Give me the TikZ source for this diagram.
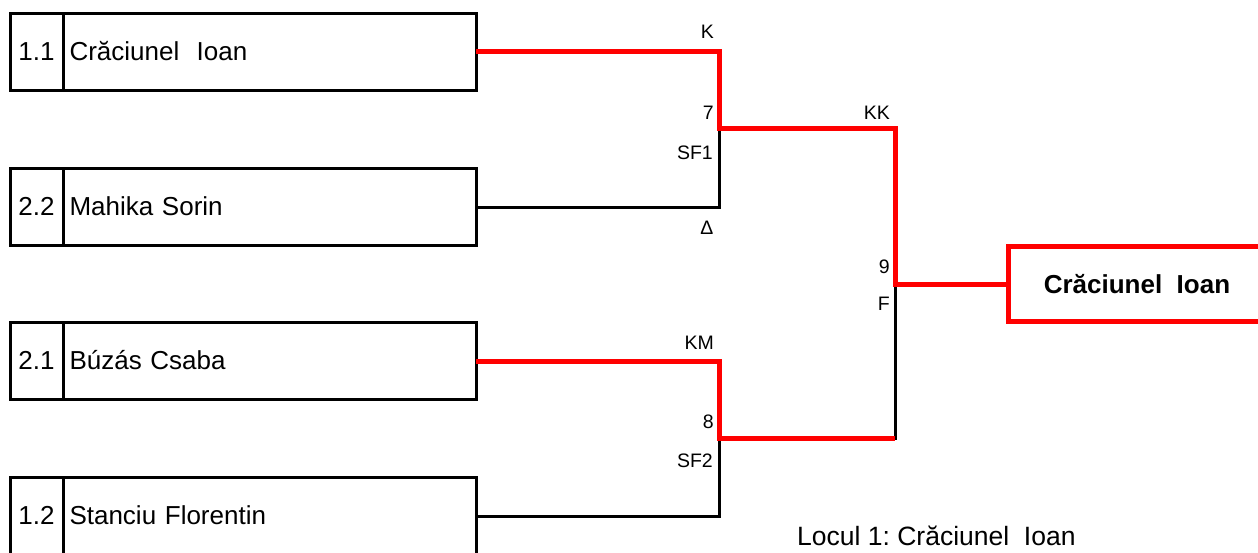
\documentclass[tikz,border=0pt]{standalone}
\usepackage{fontspec}
\setmainfont{Liberation Sans}
\begin{document}
\begin{tikzpicture}[x=1pt,y=-1pt,
  seedbox/.style={draw=black,line width=3pt,minimum width=53pt,minimum height=77pt,anchor=north west,inner sep=0pt,outer sep=0pt,font=\fontsize{26}{30}\selectfont},
  namebox/.style={draw=black,line width=3pt,minimum width=413pt,minimum height=77pt,anchor=north west,inner sep=0pt,outer sep=0pt,text width=400pt,align=left,font=\fontsize{26}{30}\selectfont},
  winline/.style={draw=red,line width=5pt,line join=miter},
  loseline/.style={draw=black,line width=3pt},
  lbl/.style={font=\fontsize{19.5}{22}\selectfont,inner sep=0pt},
  finalbox/.style={draw=red,line width=5pt,minimum width=270pt,minimum height=75pt,anchor=north west,inner sep=0pt,outer sep=0pt,font=\bfseries\fontsize{26}{30}\selectfont}]
\useasboundingbox (0,0) rectangle (1258,552);
\clip (0,0) rectangle (1258,552);
% boxes
\node[seedbox] (s1) at (10,13) {1.1};
\node[namebox] (n1) at (63,13) {Crăciunel\ \ Ioan};
\node[seedbox] (s2) at (10,168) {2.2};
\node[namebox] (n2) at (63,168) {Mahika Sorin};
\node[seedbox] (s3) at (10,322) {2.1};
\node[namebox] (n3) at (63,322) {Búzás Csaba};
\node[seedbox] (s4) at (10,477) {1.2};
\node[namebox] (n4) at (63,477) {Stanciu Florentin};
\node[finalbox] (fin) at (1008,246) {};
\node[font=\bfseries\fontsize{26}{30}\selectfont,inner sep=0pt] (fint) at (1137,284) {Crăciunel\ \ Ioan};
% junctions
\coordinate (j1a) at (719,51);
\coordinate (j1) at (719,128);
\coordinate (j1b) at (719,207);
\coordinate (j2a) at (719,361);
\coordinate (j2) at (719,438);
\coordinate (j2b) at (719,516);
\coordinate (jfa) at (895,128);
\coordinate (jf) at (895,284);
\coordinate (jfb) at (895,438);
% losers
\draw[loseline] (n2.east |- j1b) -- (j1b) -- (j1);
\draw[loseline] (n4.east |- j2b) -- (j2b) -- (j2);
\draw[loseline] (j2) -- (jfb) -- (jf);
% winners
\draw[winline] (n1.east |- j1a) -- (j1a) -- (j1) -- (jfa) -- (jf) -- (fin.west |- jf);
\draw[winline] (n3.east |- j2a) -- (j2a) -- (j2) -- (jfb);
% labels
\node[lbl,anchor=base east] (lK) at (714,38) {K};
\node[lbl,anchor=base east] (l7) at (714,119) {7};
\node[lbl,anchor=base east] (lsf1) at (713,159) {SF1};
\node[lbl,anchor=base east] (ld) at (713,234) {∆};
\node[lbl,anchor=base east] (lKK) at (890,119) {KK};
\node[lbl,anchor=base east] (l9) at (890,273) {9};
\node[lbl,anchor=base east] (lF) at (890,310) {F};
\node[lbl,anchor=base east] (lKM) at (714,349) {KM};
\node[lbl,anchor=base east] (l8) at (714,428) {8};
\node[lbl,anchor=base east] (lsf2) at (713,467) {SF2};
\node[anchor=base west,inner sep=0pt,font=\fontsize{26.5}{30}\selectfont] (loc) at (797,545) {Locul 1:\ Crăciunel\ \ Ioan};
\end{tikzpicture}
\end{document}
